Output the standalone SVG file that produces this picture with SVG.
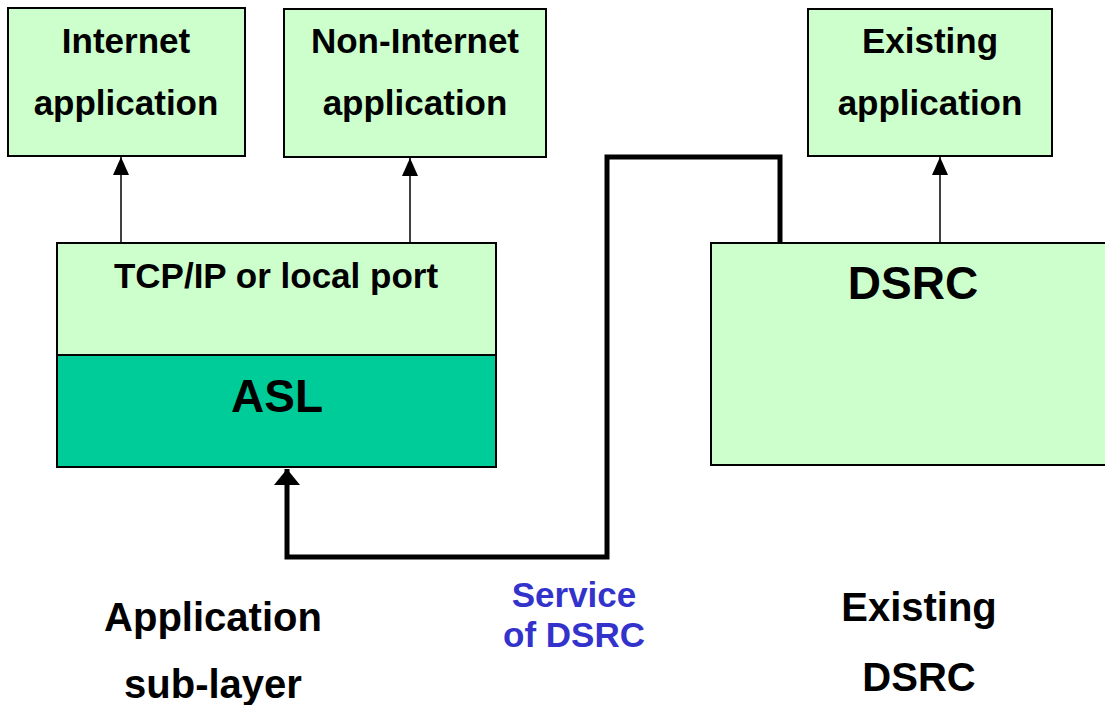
<svg xmlns="http://www.w3.org/2000/svg" width="1105" height="705" viewBox="0 0 1105 705">
  <style>
    .box { fill: #CCFFCC; stroke: #000; stroke-width: 2; }
    .asl { fill: #00CC99; stroke: #000; stroke-width: 2; }
    .t { font-family: "Liberation Sans", Arial, sans-serif; font-weight: bold; fill: #000; text-anchor: middle; }
    .thin { stroke: #000; stroke-width: 1.5; fill: none; }
    .thick { stroke: #000; stroke-width: 5; fill: none; }
    .blue { fill: #3333CC; }
  </style>
  <defs>
    <marker id="arrowSmall" markerUnits="userSpaceOnUse" markerWidth="18" markerHeight="18" refX="18" refY="8" orient="auto">
      <path d="M0,0 L18,8 L0,16 Z" fill="#000"/>
    </marker>
    <marker id="arrowBig" markerUnits="userSpaceOnUse" markerWidth="18" markerHeight="28" refX="16" refY="13" orient="auto">
      <path d="M0,0 L16,13 L0,26 Z" fill="#000"/>
    </marker>
  </defs>

  <rect width="1105" height="705" fill="#fff"/>

  <g id="internet-app">
    <rect class="box" x="8" y="8" width="237" height="148"/>
    <text class="t" x="126" y="53" font-size="35">Internet</text>
    <text class="t" x="126" y="115" font-size="35">application</text>
  </g>

  <g id="non-internet-app">
    <rect class="box" x="284" y="9" width="262" height="148"/>
    <text class="t" x="415" y="53" font-size="35">Non-Internet</text>
    <text class="t" x="415" y="115" font-size="35">application</text>
  </g>

  <g id="existing-app">
    <rect class="box" x="808" y="9" width="244" height="147"/>
    <text class="t" x="930" y="53" font-size="35">Existing</text>
    <text class="t" x="930" y="115" font-size="35">application</text>
  </g>

  <g id="tcpip">
    <rect class="box" x="57" y="243" width="439" height="112"/>
    <text class="t" x="276" y="288" font-size="35">TCP/IP or local port</text>
  </g>

  <g id="asl">
    <rect class="asl" x="57" y="355" width="439" height="112"/>
    <text class="t" x="277" y="412" font-size="46">ASL</text>
  </g>

  <g id="dsrc">
    <rect class="box" x="711" y="243" width="400" height="222"/>
    <text class="t" x="913" y="299" font-size="46">DSRC</text>
  </g>

  <g id="connectors">
    <line class="thin" x1="121" y1="243" x2="121" y2="157" marker-end="url(#arrowSmall)"/>
    <line class="thin" x1="410" y1="243" x2="410" y2="158" marker-end="url(#arrowSmall)"/>
    <line class="thin" x1="940" y1="243" x2="940" y2="157" marker-end="url(#arrowSmall)"/>
    <path class="thick" d="M780,243 V157 H607 V557 H287 V469" stroke-linejoin="miter" marker-end="url(#arrowBig)"/>
  </g>

  <g id="labels">
    <text class="t blue" x="574" y="607" font-size="35">Service</text>
    <text class="t blue" x="574" y="647" font-size="35">of DSRC</text>
    <text class="t" x="213" y="631" font-size="40">Application</text>
    <text class="t" x="213" y="698" font-size="40">sub-layer</text>
    <text class="t" x="919" y="621" font-size="40">Existing</text>
    <text class="t" x="919" y="691" font-size="40">DSRC</text>
  </g>
</svg>
